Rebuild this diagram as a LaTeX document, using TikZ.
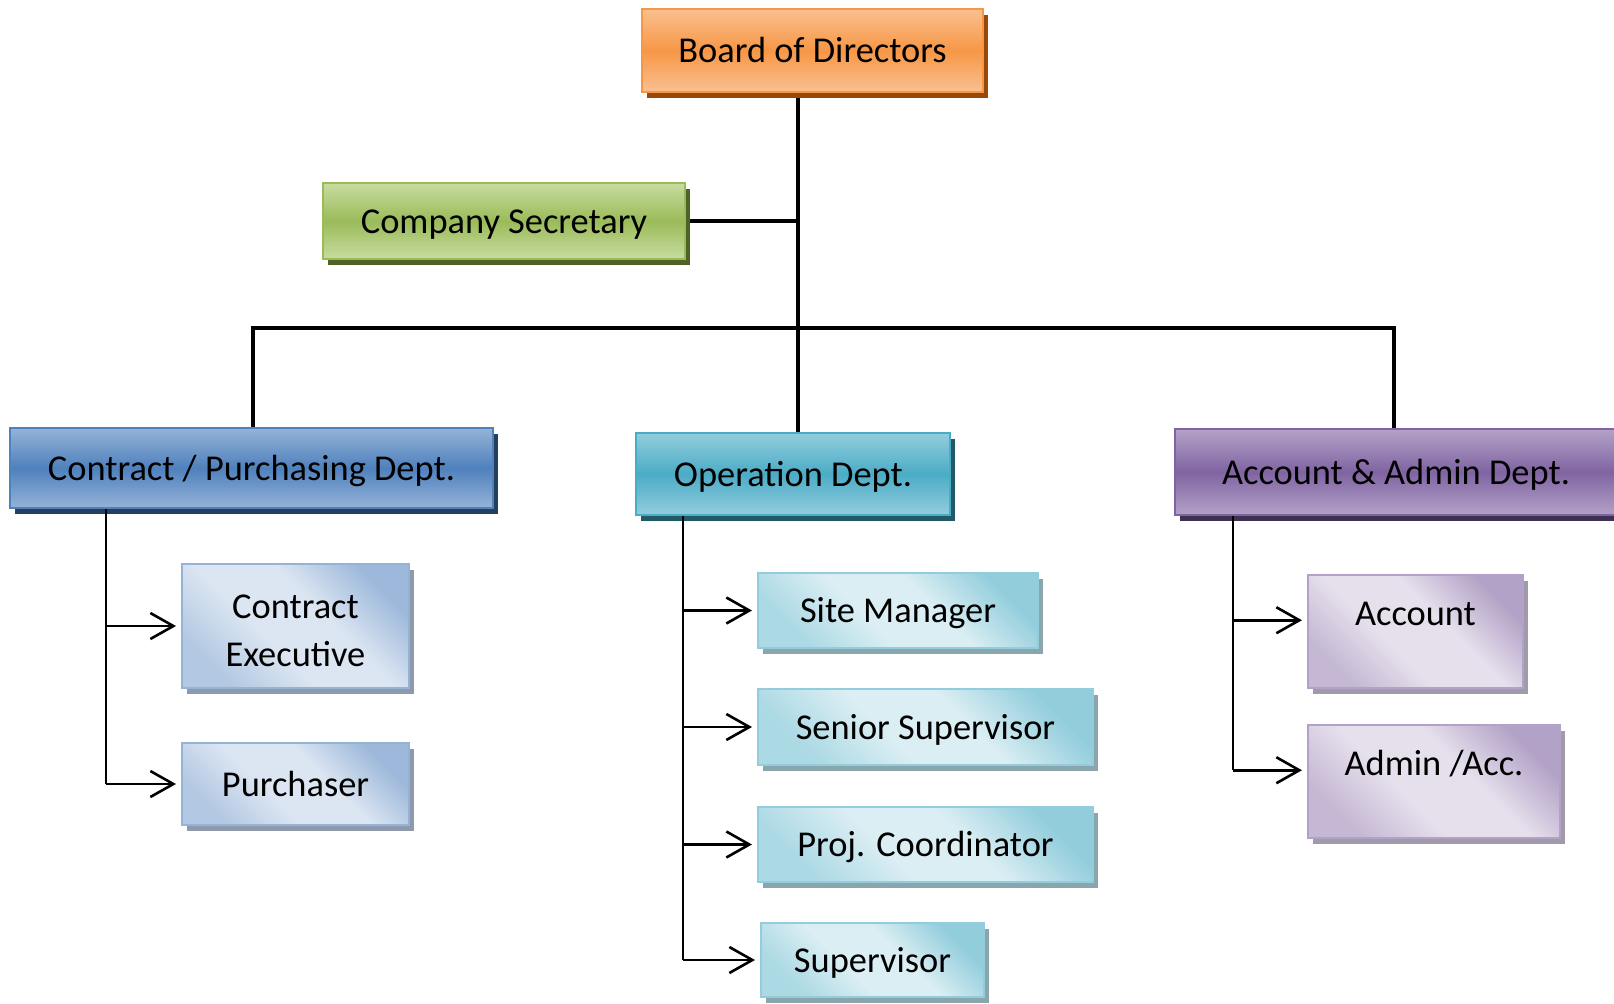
\documentclass[tikz,border=0pt]{standalone}
\usepackage{fontspec}
\setmainfont{Carlito}
\usetikzlibrary{arrows.meta,shadows,backgrounds}
\definecolor{orD}{HTML}{F79646}\definecolor{orL}{HTML}{FAC090}\definecolor{orS}{HTML}{984807}
\definecolor{grD}{HTML}{9BBB59}\definecolor{grL}{HTML}{C8DCA0}\definecolor{grS}{HTML}{4F6228}
\definecolor{blD}{HTML}{4F81BD}\definecolor{blL}{HTML}{95B3D7}\definecolor{blS}{HTML}{243F60}
\definecolor{tlD}{HTML}{4BACC6}\definecolor{tlL}{HTML}{93CDDD}\definecolor{tlS}{HTML}{215967}
\definecolor{puD}{HTML}{8064A2}\definecolor{puL}{HTML}{B3A2C7}\definecolor{puS}{HTML}{3F3151}
\definecolor{sbD}{HTML}{9DB8DA}\definecolor{sbL}{HTML}{DCE6F2}\definecolor{sbB}{HTML}{95B3D7}\definecolor{sbS}{HTML}{8E9AAB}
\definecolor{stD}{HTML}{92CDDC}\definecolor{stL}{HTML}{DAEEF3}\definecolor{stB}{HTML}{93CDDD}\definecolor{stS}{HTML}{8AA6AD}
\definecolor{spD}{HTML}{B3A2C7}\definecolor{spL}{HTML}{E6E0EC}\definecolor{spB}{HTML}{B3A2C7}\definecolor{spS}{HTML}{A09AAA}
\colorlet{sbM}{sbD!65!sbL}\colorlet{stM}{stD!65!stL}\colorlet{spM}{spD!65!spL}
\pgfdeclareverticalshading{shblue}{100bp}{color(0bp)=(sbM); color(25bp)=(sbM); color(42bp)=(sbL); color(58bp)=(sbL); color(75bp)=(sbD); color(100bp)=(sbD)}
\pgfdeclareverticalshading{shteal}{100bp}{color(0bp)=(stM); color(25bp)=(stM); color(42bp)=(stL); color(58bp)=(stL); color(75bp)=(stD); color(100bp)=(stD)}
\pgfdeclareverticalshading{shpurp}{100bp}{color(0bp)=(spM); color(25bp)=(spM); color(42bp)=(spL); color(58bp)=(spL); color(75bp)=(spD); color(100bp)=(spD)}
\begin{document}
\begin{tikzpicture}[x=0.5pt,y=-0.5pt,
  every node/.style={font=\fontsize{18.2pt}{24pt}\selectfont, inner sep=0pt, align=center},
  fixt/.style={text height=14pt, text depth=2pt},
  topbox/.style n args={3}{draw=#1, line width=1pt, top color=#2, bottom color=#2, middle color=#1, fixt,
    drop shadow={shadow xshift=2.5pt, shadow yshift=-3pt, fill=#3, opacity=1}},
  subbox/.style n args={3}{draw=#2, line width=1pt, shade, shading=#1, shading angle=-45,
    drop shadow={shadow xshift=2.5pt, shadow yshift=-3pt, fill=#3, opacity=1}},
  mainline/.style={line width=2pt, draw=black},
  subline/.style={line width=1.3pt, draw=black},
  arr/.style={subline, -{Straight Barb[length=11.5pt,width=13pt]}, shorten >=2.5pt},
  topal/.style={text height=25pt, text depth=31.5pt}
]
\useasboundingbox (0,0) rectangle (1614,1003);
% top level
\node[topbox={orD}{orL}{orS}, minimum width=170.5pt, minimum height=41.5pt] (board) at (812.5,50.5) {Board of Directors};
\node[topbox={grD}{grL}{grS}, minimum width=181pt, minimum height=38pt] (cs) at (504,221) {Company Secretary};
\node[topbox={blD}{blL}{blS}, minimum width=241.5pt, minimum height=40pt] (cp) at (251.5,468) {Contract / Purchasing Dept.};
\node[topbox={tlD}{tlL}{tlS}, minimum width=157pt, minimum height=41pt] (op) at (793,474) {Operation Dept.};
\node[topbox={puD}{puL}{puS}, minimum width=221pt, minimum height=43pt] (ad) at (1396,472) {Account \& Admin Dept.};
% sub boxes
\node[subbox={shblue}{sbB}{sbS}, minimum width=113.5pt, minimum height=62pt] (ce) at (295.5,626) {\rule{0pt}{16.5pt}Contract\\Executive};
\node[subbox={shblue}{sbB}{sbS}, fixt, minimum width=113.5pt, minimum height=41pt] (pu) at (295.5,784) {Purchaser};
\node[subbox={shteal}{stB}{stS}, fixt, minimum width=140pt, minimum height=37.5pt] (sm) at (898,610.5) {Site Manager};
\node[subbox={shteal}{stB}{stS}, fixt, minimum width=167.5pt, minimum height=38pt] (ss) at (925.5,727) {Senior Supervisor};
\node[subbox={shteal}{stB}{stS}, fixt, minimum width=167.5pt, minimum height=37.5pt] (pc) at (925.5,844.5) {Proj. Coordinator};
\node[subbox={shteal}{stB}{stS}, fixt, minimum width=111.5pt, minimum height=37pt] (su) at (872.5,960) {Supervisor};
\node[subbox={shpurp}{spB}{spS}, minimum width=107.5pt, topal] (ac) at (1415.5,631.5) {Account};
\node[subbox={shpurp}{spB}{spS}, minimum width=126pt, topal] (aa) at (1434,781.5) {Admin /Acc.};
% trunk coordinates
\coordinate (tk) at (798,0);
\coordinate (busL) at (253,328);
\coordinate (busR) at (1394,328);
\coordinate (lt) at (106,0);
\coordinate (ot) at (683,0);
\coordinate (at) at (1233,0);
\begin{scope}[on background layer]
\draw[mainline] (board.south -| tk) -- (op.north -| tk);
\draw[mainline] (cs.east) -- (cs.east -| tk);
\draw[mainline] (cp.north -| busL) -- (busL) -- (busR) -- (ad.north -| busR);
\end{scope}
\draw[subline] (cp.south -| lt) -- (pu.west -| lt);
\draw[arr] (ce.west -| lt) -- (ce.west);
\draw[arr] (pu.west -| lt) -- (pu.west);
\draw[subline] (op.south -| ot) -- (su.west -| ot);
\draw[arr] (sm.west -| ot) -- (sm.west);
\draw[arr] (ss.west -| ot) -- (ss.west);
\draw[arr] (pc.west -| ot) -- (pc.west);
\draw[arr] (su.west -| ot) -- (su.west);
\draw[subline] (ad.south -| at) -- (aa.mid west -| at);
\draw[arr] (ac.mid west -| at) -- (ac.mid west);
\draw[arr] (aa.mid west -| at) -- (aa.mid west);
\end{tikzpicture}
\end{document}
